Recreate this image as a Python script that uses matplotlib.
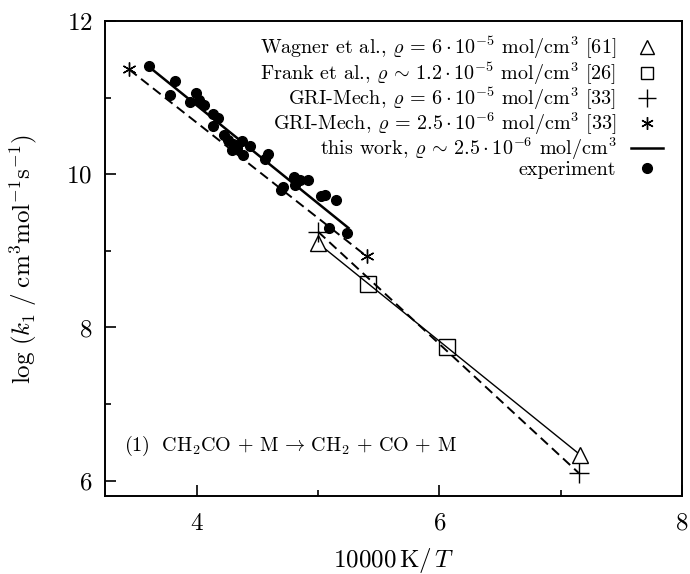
import matplotlib
matplotlib.use("Agg")
import matplotlib.pyplot as plt
from matplotlib.lines import Line2D

plt.rcParams['font.family'] = 'serif'
plt.rcParams['font.serif'] = ['cmr10']
plt.rcParams['mathtext.fontset'] = 'cm'
plt.rcParams['axes.formatter.use_mathtext'] = True

# experimental points (10000 K/T, log k1)
exp_x = [3.60, 3.82, 3.78, 3.99, 3.94, 4.02, 4.06, 4.13, 4.17, 4.13,
         4.22, 4.26, 4.30, 4.33, 4.37, 4.44, 4.38, 4.29, 4.59, 4.56,
         4.80, 4.85, 4.92, 4.81, 4.69, 4.71, 5.02, 5.06, 5.15, 5.09, 5.24]
exp_y = [11.41, 11.22, 11.04, 11.06, 10.94, 10.97, 10.90, 10.79, 10.74, 10.63,
         10.51, 10.45, 10.40, 10.35, 10.43, 10.37, 10.25, 10.32, 10.26, 10.20,
         9.97, 9.93, 9.93, 9.86, 9.79, 9.84, 9.72, 9.73, 9.67, 9.30, 9.23]

# this work fit
work_x = [3.60, 5.25]
work_y = [11.41, 9.30]

# Wagner et al.
wagner_x = [5.00, 7.16]
wagner_y = [9.10, 6.34]

# Frank et al.
frank_x = [5.41, 6.06]
frank_y = [8.57, 7.75]

# GRI-Mech, rho = 6e-5
gri_hi_x = [5.00, 7.15]
gri_hi_y = [9.25, 6.10]

# GRI-Mech, rho = 2.5e-6
gri_lo_x = [3.44, 5.40]
gri_lo_y = [11.37, 8.93]

labels = [
    r"Wagner et al., $\varrho\,=\,6\cdot 10^{-5}$ mol/cm$^3$ [61]",
    r"Frank et al., $\varrho\,\sim\,1.2\cdot 10^{-5}$ mol/cm$^3$ [26]",
    r"GRI-Mech, $\varrho\,=\,6\cdot 10^{-5}$ mol/cm$^3$ [33]",
    r"GRI-Mech, $\varrho\,=\,2.5\cdot 10^{-6}$ mol/cm$^3$ [33]",
    r"this work, $\varrho\,\sim\,2.5\cdot 10^{-6}$ mol/cm$^3$",
    "experiment",
]

fig = plt.figure(figsize=(6.9, 5.74), dpi=100)
ax = fig.add_axes([0.152, 0.136, 0.836, 0.827])

dash = (0, (5, 2.8))
ax.plot(work_x, work_y, '-', color='black', lw=1.8)
ax.plot(wagner_x, wagner_y, '-', color='black', lw=1.0)
ax.plot(gri_hi_x, gri_hi_y, color='black', lw=1.4, linestyle=dash)
ax.plot(gri_lo_x, gri_lo_y, color='black', lw=1.4, linestyle=dash)

ax.plot(exp_x, exp_y, 'o', color='black', ms=7)
ax.plot(wagner_x, wagner_y, '^', mfc='white', mec='black', ms=11, mew=1.0)
ax.plot(frank_x, frank_y, 's', mfc='none', mec='black', ms=11, mew=1.0)
ax.plot(gri_hi_x, gri_hi_y, '+', color='black', ms=14, mew=1.0)
ax.plot(gri_lo_x, gri_lo_y, marker=(6, 2, 0), ls='none', color='black', ms=10, mew=1.0)

handles = [
    Line2D([], [], ls='none', marker='^', mfc='white', mec='black', ms=10, mew=1.0),
    Line2D([], [], ls='none', marker='s', mfc='none', mec='black', ms=9, mew=1.0),
    Line2D([], [], ls='none', marker='+', color='black', ms=13, mew=1.0),
    Line2D([], [], ls='none', marker=(6, 2, 0), color='black', ms=9, mew=1.0),
    Line2D([], [], ls='-', color='black', lw=1.8),
    Line2D([], [], ls='none', marker='o', color='black', ms=7),
]
ax.legend(handles, labels, loc='upper right', bbox_to_anchor=(0.995, 1.005),
          frameon=False, markerfirst=False, fontsize=14.5, handlelength=1.6,
          handletextpad=0.7, labelspacing=-0.07, borderpad=0.3)

ax.text(3.40, 6.45,
        r"$(1)\ \ \mathrm{CH_2CO}\,+\,\mathrm{M}\,\rightarrow\,\mathrm{CH_2}\,+\,\mathrm{CO}\,+\,\mathrm{M}$",
        fontsize=14.5, ha='left', va='center')

ax.set_xlim(3.24, 8)
ax.set_ylim(5.8, 12)
ax.set_xticks([4, 6, 8])
ax.set_xticks([5, 7], minor=True)
ax.set_yticks([6, 8, 10, 12])
ax.set_yticks([7, 9, 11], minor=True)
ax.tick_params(which='both', direction='in', top=False, right=False, width=1.2)
ax.tick_params(which='major', length=8, labelsize=18)
ax.tick_params(axis='x', which='major', pad=12)
ax.tick_params(axis='y', which='major', pad=9)
ax.tick_params(which='minor', length=4)
for s in ax.spines.values():
    s.set_linewidth(1.4)

ax.set_xlabel(r"$10000\,\mathrm{K}/\,T$", fontsize=18, labelpad=8)
ax.set_ylabel(r"$\log\,(k_1\;/\;\mathrm{cm^3mol^{-1}s^{-1}})$", fontsize=18, labelpad=20)

fig.savefig("out.png", dpi=100)
